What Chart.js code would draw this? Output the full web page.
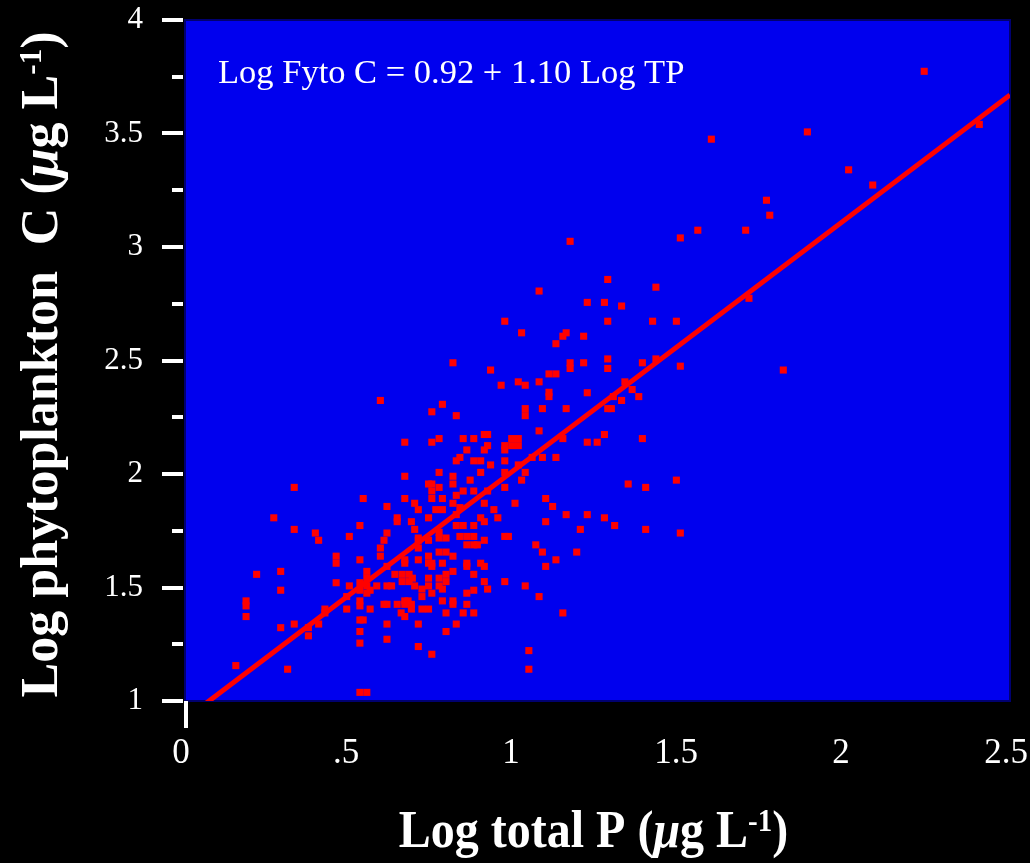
<!DOCTYPE html>
<html>
<head>
<meta charset="utf-8">
<title>Log phytoplankton C vs log total P</title>
<script src="https://cdn.jsdelivr.net/npm/chart.js@4.4.1/dist/chart.umd.min.js"></script>
<style>
  html, body { margin: 0; background: #000; }
  #wrap { width: 1030px; height: 863px; }
</style>
</head>
<body>
<div id="wrap"><canvas id="fytoTP" width="1030" height="863"></canvas></div>
<script>
// lake samples: log10 total P (µg/L) and log10 phytoplankton carbon (µg/L)
const logTP = [
  0.592, 0.331, 0.540, 0.612, 0.269, 0.530, 0.331, 0.395, 0.405, 0.498,
  0.603, 0.612, 0.926, 1.103, 1.124, 0.958, 1.010, 1.031, 1.073, 1.103,
  1.103, 0.780, 0.748, 0.822, 1.031, 1.031, 1.083, 1.073, 0.666, 0.748,
  0.770, 0.843, 0.875, 0.907, 0.917, 0.917, 0.907, 0.854, 0.990, 1.010,
  0.990, 1.010, 0.969, 0.969, 1.083, 1.052, 0.833, 0.822, 0.875, 0.896,
  0.926, 0.969, 1.010, 0.969, 1.031, 1.020, 0.896, 0.770, 0.666, 0.812,
  0.812, 0.864, 0.738, 0.748, 0.770, 0.748, 0.748, 0.969, 0.843, 0.875,
  0.917, 0.822, 0.780, 0.666, 0.696, 0.812, 0.833, 0.822, 0.760, 0.780,
  0.707, 0.907, 0.936, 1.000, 1.093, 0.643, 0.643, 0.686, 0.696, 0.738,
  0.770, 0.822, 0.843, 0.875, 0.896, 0.907, 0.948, 1.093, 0.707, 0.770,
  0.791, 0.833, 0.854, 0.875, 0.969, 0.707, 0.738, 0.854, 0.875, 0.886,
  0.907, 0.980, 1.063, 1.083, 1.093, 0.666, 0.666, 0.707, 0.738, 0.738,
  0.748, 0.748, 0.770, 0.791, 0.812, 0.780, 0.854, 0.854, 0.896, 0.907,
  0.612, 0.636, 0.658, 0.679, 0.658, 0.679, 0.689, 0.612, 0.626, 0.696,
  0.738, 0.738, 0.770, 0.770, 0.780, 0.791, 0.791, 0.812, 0.875, 0.907,
  0.917, 0.969, 1.031, 1.073, 0.718, 0.718, 0.748, 0.854, 0.875, 0.780,
  0.812, 0.812, 0.603, 0.612, 0.643, 0.666, 0.676, 0.666, 0.686, 0.686,
  0.655, 0.666, 0.718, 0.738, 0.791, 0.843, 0.854, 0.875, 0.612, 0.707,
  0.822, 0.791, 0.612, 0.707, 0.748, 1.042, 1.042, 0.707, 0.592, 0.592,
  0.217, 0.290, 0.290, 0.458, 0.458, 0.530, 0.458, 0.498, 0.551, 0.551,
  0.530, 0.530, 0.551, 0.561, 0.551, 0.581, 0.490, 0.490, 0.530, 0.530,
  0.561, 0.185, 0.185, 0.185, 0.424, 0.424, 0.405, 0.331, 0.290, 0.374,
  0.374, 0.530, 0.540, 0.530, 0.530, 0.154, 0.311, 0.530, 0.551, 1.167,
  1.281, 1.219, 1.155, 1.333, 1.355, 1.375, 1.323, 1.281, 1.292, 1.298,
  1.145, 1.219, 1.249, 1.271, 1.386, 1.124, 1.343, 1.396, 1.489, 1.114,
  1.155, 1.219, 1.271, 1.302, 1.198, 1.396, 1.501, 1.187, 1.124, 1.145,
  2.240, 2.407, 1.886, 1.595, 2.011, 2.084, 1.762, 1.772, 1.554, 1.699,
  1.501, 1.167, 1.281, 1.427, 1.219, 1.271, 1.323, 1.709, 1.281, 1.417,
  1.489, 1.124, 1.145, 1.155, 1.208, 1.167, 1.208, 1.281, 1.386, 1.427,
  1.501, 1.813, 1.073, 0.969, 1.020, 0.812
];
const logFytoC = [
  2.324, 1.941, 1.892, 1.857, 1.807, 1.773, 1.756, 1.740, 1.708, 1.725,
  1.708, 1.740, 2.458, 2.441, 2.441, 2.391, 2.406, 2.391, 2.406, 2.360,
  2.341, 2.307, 2.274, 2.257, 2.288, 2.257, 2.288, 2.190, 2.140, 2.140,
  2.156, 2.156, 2.156, 2.174, 2.174, 2.125, 2.106, 2.106, 2.156, 2.156,
  2.125, 2.125, 2.125, 2.106, 2.073, 2.073, 2.073, 2.058, 2.058, 2.058,
  2.040, 2.058, 2.040, 2.007, 2.007, 1.973, 2.007, 2.007, 1.990, 1.990,
  1.956, 1.973, 1.956, 1.956, 1.941, 1.925, 1.892, 1.941, 1.925, 1.925,
  1.925, 1.906, 1.892, 1.892, 1.871, 1.871, 1.852, 1.821, 1.843, 1.843,
  1.843, 1.871, 1.843, 1.871, 1.892, 1.807, 1.790, 1.790, 1.756, 1.807,
  1.743, 1.773, 1.773, 1.773, 1.807, 1.790, 1.807, 1.790, 1.718, 1.718,
  1.718, 1.725, 1.725, 1.725, 1.725, 1.708, 1.708, 1.688, 1.688, 1.688,
  1.708, 1.725, 1.688, 1.656, 1.593, 1.622, 1.607, 1.622, 1.638, 1.607,
  1.607, 1.593, 1.656, 1.656, 1.638, 1.607, 1.607, 1.593, 1.607, 1.593,
  1.593, 1.558, 1.558, 1.558, 1.526, 1.526, 1.541, 1.507, 1.507, 1.507,
  1.541, 1.507, 1.541, 1.507, 1.493, 1.558, 1.526, 1.571, 1.558, 1.526,
  1.493, 1.526, 1.507, 1.460, 1.493, 1.460, 1.475, 1.475, 1.488, 1.441,
  1.441, 1.426, 1.426, 1.426, 1.426, 1.441, 1.441, 1.426, 1.426, 1.405,
  1.388, 1.372, 1.405, 1.405, 1.388, 1.388, 1.426, 1.388, 1.339, 1.339,
  1.339, 1.306, 1.272, 1.240, 1.206, 1.222, 1.140, 1.674, 1.674, 1.638,
  1.558, 1.571, 1.488, 1.638, 1.607, 1.622, 1.521, 1.507, 1.571, 1.541,
  1.521, 1.488, 1.507, 1.488, 1.475, 1.507, 1.460, 1.405, 1.441, 1.419,
  1.405, 1.441, 1.419, 1.372, 1.405, 1.388, 1.339, 1.339, 1.323, 1.323,
  1.287, 1.357, 1.357, 1.306, 1.255, 1.156, 1.140, 1.038, 1.038, 2.465,
  2.465, 2.358, 2.288, 2.406, 2.372, 2.341, 2.324, 2.288, 2.288, 2.341,
  2.156, 2.140, 2.140, 2.174, 2.156, 2.073, 1.956, 1.941, 1.973, 1.857,
  1.821, 1.821, 1.807, 1.773, 1.756, 1.756, 1.740, 1.656, 1.622, 1.388,
  3.774, 3.540, 3.507, 3.475, 3.340, 3.273, 3.206, 3.140, 3.074, 3.074,
  3.040, 3.025, 2.857, 2.823, 2.756, 2.756, 2.740, 2.774, 2.673, 2.673,
  2.673, 2.574, 2.607, 2.622, 2.607, 2.490, 2.490, 2.507, 2.490, 2.507,
  2.475, 2.458, 2.806, 2.673, 2.622, 2.490
];

// regression: Log Fyto C = 0.92 + 1.10 Log TP
const fitIntercept = 0.92;
const fitSlope = 1.10;
const equationText = "Log Fyto C = 0.92 + 1.10 Log TP";

const xTickLabels = ["0", ".5", "1", "1.5", "2", "2.5"];
const yTickLabels = ["1", "1.5", "2", "2.5", "3", "3.5", "4"];

const SERIF = "'Liberation Serif', 'Times New Roman', serif";
const PLOT_BLUE = "#0000ee";
const RED = "#ff0000";

const xTitleParts = [{ t: "Log total P (" }, { t: "\u03bc", it: true }, { t: "g L" }, { t: "-1", sup: true }, { t: ")" }];
const yTitleParts = [{ t: "Log phytoplankton  C (" }, { t: "\u03bc", it: true }, { t: "g L" }, { t: "-1", sup: true }, { t: ")" }];

// bold serif text with an italic mu and a raised exponent, centred on cx
function richText(ctx, parts, size, cx, base) {
  const fontFor = (p) => `${p.it ? "italic " : ""}bold ${p.sup ? Math.round(size * 0.6) : size}px ${SERIF}`;
  let w = 0;
  for (const p of parts) {
    ctx.font = fontFor(p);
    w += ctx.measureText(p.t).width;
  }
  let px = cx - w / 2;
  ctx.textAlign = "left";
  ctx.textBaseline = "alphabetic";
  for (const p of parts) {
    ctx.font = fontFor(p);
    ctx.fillText(p.t, px, base - (p.sup ? size * 0.3 : 0));
    px += ctx.measureText(p.t).width;
  }
}

const frame = {
  id: "frame",
  beforeDraw(chart) {
    const { ctx, chartArea: a } = chart;
    ctx.save();
    ctx.fillStyle = "#000";
    ctx.fillRect(0, 0, chart.width, chart.height);
    ctx.fillStyle = PLOT_BLUE;
    ctx.fillRect(a.left, a.top, a.right - a.left, a.bottom - a.top);
    ctx.strokeStyle = "#000070";
    ctx.lineWidth = 2;
    ctx.strokeRect(a.left, a.top, a.right - a.left, a.bottom - a.top);
    ctx.restore();
  },
  afterDraw(chart) {
    const { ctx, chartArea: a, scales } = chart;
    const { x, y } = scales;
    ctx.save();
    ctx.fillStyle = "#fff";

    // y ticks: long at labelled values, short in between
    y.ticks.forEach((t, i) => {
      const py = y.getPixelForValue(t.value);
      const len = i % 2 === 0 ? 21 : 11;
      ctx.fillRect(a.left - 2 - len, Math.round(py) - 2, len, 4);
    });
    // only the origin gets a tick on the x axis
    const x0 = x.getPixelForValue(0);
    ctx.fillRect(x0 - 1, a.bottom, 4, 27);

    // fitted equation
    ctx.font = `34.5px ${SERIF}`;
    ctx.textAlign = "left";
    ctx.textBaseline = "alphabetic";
    ctx.fillText(equationText, a.left + 33, a.top + 63);

    // axis titles (the x title is set a little taller than wide)
    ctx.save();
    ctx.translate(0, 847);
    ctx.scale(1, 1.1);
    richText(ctx, xTitleParts, 48, (a.left + a.right) / 2 - 4, 0);
    ctx.restore();

    ctx.translate(57, (a.top + a.bottom) / 2 + 4);
    ctx.rotate(-Math.PI / 2);
    richText(ctx, yTitleParts, 52, 0, 0);
    ctx.restore();
  }
};

const samples = logTP.map((v, i) => ({ x: v, y: logFytoC[i] }));
const fitLine = [0, 2.5].map((v) => ({ x: v, y: fitIntercept + fitSlope * v }));

new Chart(document.getElementById("fytoTP").getContext("2d"), {
  type: "scatter",
  data: {
    datasets: [
      { type: "line", data: fitLine, borderColor: RED, borderWidth: 5, pointRadius: 0, fill: false, clip: 0 },
      { data: samples, pointStyle: "rect", pointRadius: 5, backgroundColor: RED, borderWidth: 0 }
    ]
  },
  options: {
    responsive: false,
    animation: false,
    events: [],
    layout: { padding: { top: 20, right: 20, left: 0, bottom: 0 } },
    plugins: { legend: { display: false }, tooltip: { enabled: false } },
    scales: {
      x: {
        type: "linear",
        min: 0,
        max: 2.5,
        afterFit(s) {
          s.height = 162;
          s.paddingLeft = 0;
          s.paddingRight = 0;
        },
        grid: { display: false },
        border: { display: false },
        ticks: { stepSize: 0.5, autoSkip: false, maxRotation: 0, color: "#fff", padding: 24, labelOffset: -4, font: { family: SERIF, size: 35 }, callback: (v, i) => xTickLabels[i] }
      },
      y: {
        min: 1,
        max: 4,
        afterFit(s) {
          s.width = 185;
          s.paddingTop = 0;
          s.paddingBottom = 0;
        },
        grid: { display: false },
        border: { display: false },
        ticks: { stepSize: 0.25, autoSkip: false, color: "#fff", padding: 34, font: { family: SERIF, size: 31 }, callback: (v, i) => (i % 2 === 0 ? yTickLabels[i / 2] : "") }
      }
    }
  },
  plugins: [frame]
});
</script>
</body>
</html>
